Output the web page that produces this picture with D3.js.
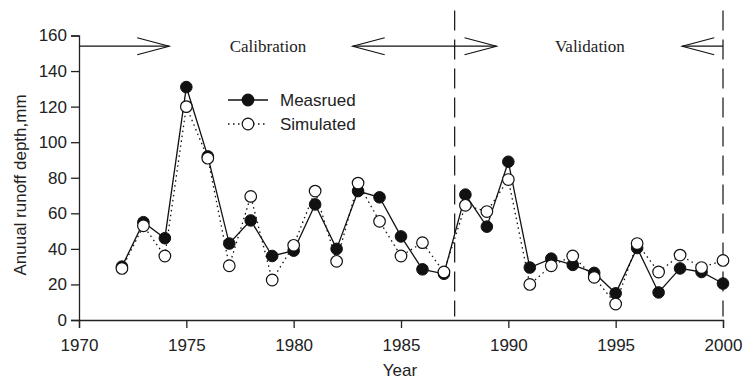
<!DOCTYPE html>
<html>
<head>
<meta charset="utf-8">
<script src="https://cdn.jsdelivr.net/npm/d3@7"></script>
<style>
  body { margin: 0; background: #fff; }
  svg { display: block; }
</style>
</head>
<body>
<div id="chart"></div>
<script>
// data
const years = [1972, 1973, 1974, 1975, 1976, 1977, 1978, 1979, 1980, 1981, 1982, 1983, 1984, 1985, 1986,
  1987, 1988, 1989, 1990, 1991, 1992, 1993, 1994, 1995, 1996, 1997, 1998, 1999, 2000];
const measured = [30, 55, 46, 131, 92, 43, 56, 36, 39, 65, 40, 72.5, 69, 47, 28.5,
  26, 70.5, 52.5, 89, 29.5, 34.5, 31, 26.5, 15, 40.5, 15.5, 29, 27, 20.5];
const simulated = [29, 53, 36, 120, 91, 30.5, 69.5, 22.5, 42, 72.5, 33, 77, 55.5, 36, 43.5,
  27, 64.5, 61, 79, 20, 30.5, 36, 24, 9, 43, 27, 36.5, 29.5, 33.5];

const xTicks = [1970, 1975, 1980, 1985, 1990, 1995, 2000];
const yTicks = [0, 20, 40, 60, 80, 100, 120, 140, 160];

// period annotations (years)
const splitYears = [1987.5, 2000];
const periodLabels = [{ text: "Calibration", x: 1978.8 }, { text: "Validation", x: 1993.8 }];
const arrowLevel = 154;

const width = 743, height = 380;
const margin = { top: 35.5, right: 20, bottom: 60, left: 79 };

const svg = d3.select("#chart").append("svg")
  .attr("width", width)
  .attr("height", height);

const x = d3.scaleLinear().domain([1970, 2000]).range([margin.left, width - margin.right]);
const y = d3.scaleLinear().domain([0, 160]).range([height - margin.bottom, margin.top]);

const sans = "'Liberation Sans', Arial, sans-serif";
const serif = "'Liberation Serif', 'Times New Roman', serif";

// axes
const gx = svg.append("g")
  .attr("transform", "translate(0," + y(0) + ")")
  .call(d3.axisBottom(x).tickValues(xTicks).tickFormat(d3.format("d")).tickSizeOuter(0).tickSize(8).tickPadding(11));
const gy = svg.append("g")
  .attr("transform", "translate(" + x(1970) + ",0)")
  .call(d3.axisLeft(y).tickValues(yTicks).tickSizeOuter(0).tickSize(8).tickPadding(4));

[gx, gy].forEach(g => {
  g.selectAll("path, line").attr("stroke", "#222").attr("stroke-width", 1.3);
  g.selectAll("text").attr("fill", "#222").style("font-family", sans).style("font-size", "17px");
});

svg.append("text")
  .attr("x", 400).attr("y", 376)
  .attr("text-anchor", "middle")
  .style("font-family", sans).style("font-size", "17px").attr("fill", "#222")
  .text("Year");

svg.append("text")
  .attr("transform", "translate(26," + 185 + ") rotate(-90)")
  .attr("text-anchor", "middle")
  .style("font-family", sans).style("font-size", "17px").attr("fill", "#222")
  .text("Anuual runoff depth,mm");

// dashed split lines
svg.append("g").selectAll("line")
  .data(splitYears)
  .enter().append("line")
  .attr("x1", d => x(d)).attr("x2", d => x(d))
  .attr("y1", y(174)).attr("y2", y(2))
  .attr("stroke", "#111").attr("stroke-width", 1.2)
  .attr("stroke-dasharray", "20,9");

// period arrows
const arrows = [
  { from: 1970, to: 1974.2, heads: ["end"] },
  { from: 1982.75, to: 1989.45, heads: ["start", "end"] },
  { from: 1998.1, to: 2000, heads: ["start"] }
];
const ga = svg.append("g").attr("stroke", "#111").attr("stroke-width", 1.1).attr("fill", "none");
arrows.forEach(a => {
  const yy = y(arrowLevel);
  ga.append("line").attr("x1", x(a.from)).attr("x2", x(a.to)).attr("y1", yy).attr("y2", yy);
  a.heads.forEach(h => {
    const tip = h === "end" ? x(a.to) : x(a.from);
    const dir = h === "end" ? -1 : 1;
    ga.append("path")
      .attr("d", "M" + (tip + dir * 32) + "," + (yy - 8.5) + "L" + tip + "," + yy + "L" + (tip + dir * 32) + "," + (yy + 8.5));
  });
});

svg.append("g").selectAll("text")
  .data(periodLabels)
  .enter().append("text")
  .attr("x", d => x(d.x)).attr("y", y(arrowLevel) + 6)
  .attr("text-anchor", "middle")
  .style("font-family", serif).style("font-size", "17px").attr("fill", "#222")
  .text(d => d.text);

// series
const line = d3.line().x(d => x(d[0])).y(d => y(d[1]));
const simPts = years.map((yr, i) => [yr, simulated[i]]);
const meaPts = years.map((yr, i) => [yr, measured[i]]);

svg.append("path").datum(simPts)
  .attr("d", line).attr("fill", "none")
  .attr("stroke", "#111").attr("stroke-width", 1.3).attr("stroke-dasharray", "1.5,3.5");
svg.append("path").datum(meaPts)
  .attr("d", line).attr("fill", "none")
  .attr("stroke", "#111").attr("stroke-width", 1.3);

svg.append("g").selectAll("circle")
  .data(meaPts)
  .enter().append("circle")
  .attr("cx", d => x(d[0])).attr("cy", d => y(d[1])).attr("r", 5.8)
  .attr("fill", "#111").attr("stroke", "#111");
svg.append("g").selectAll("circle")
  .data(simPts)
  .enter().append("circle")
  .attr("cx", d => x(d[0])).attr("cy", d => y(d[1])).attr("r", 5.8)
  .attr("fill", "#fff").attr("stroke", "#111").attr("stroke-width", 1.2);

// legend
const legend = svg.append("g").attr("transform", "translate(228,100)");
const legendItems = [
  { label: "Measrued", fill: "#111", dash: null },
  { label: "Simulated", fill: "#fff", dash: "1.5,3.5" }
];
legendItems.forEach((d, i) => {
  const g = legend.append("g").attr("transform", "translate(0," + (i * 24) + ")");
  g.append("line").attr("x1", 0).attr("x2", 40).attr("y1", 0).attr("y2", 0)
    .attr("stroke", "#111").attr("stroke-width", 1.3).attr("stroke-dasharray", d.dash);
  g.append("circle").attr("cx", 20).attr("cy", 0).attr("r", 5.8)
    .attr("fill", d.fill).attr("stroke", "#111").attr("stroke-width", 1.2);
  g.append("text").attr("x", 52).attr("y", 6)
    .style("font-family", sans).style("font-size", "17px").attr("fill", "#222")
    .text(d.label);
});
</script>
</body>
</html>
